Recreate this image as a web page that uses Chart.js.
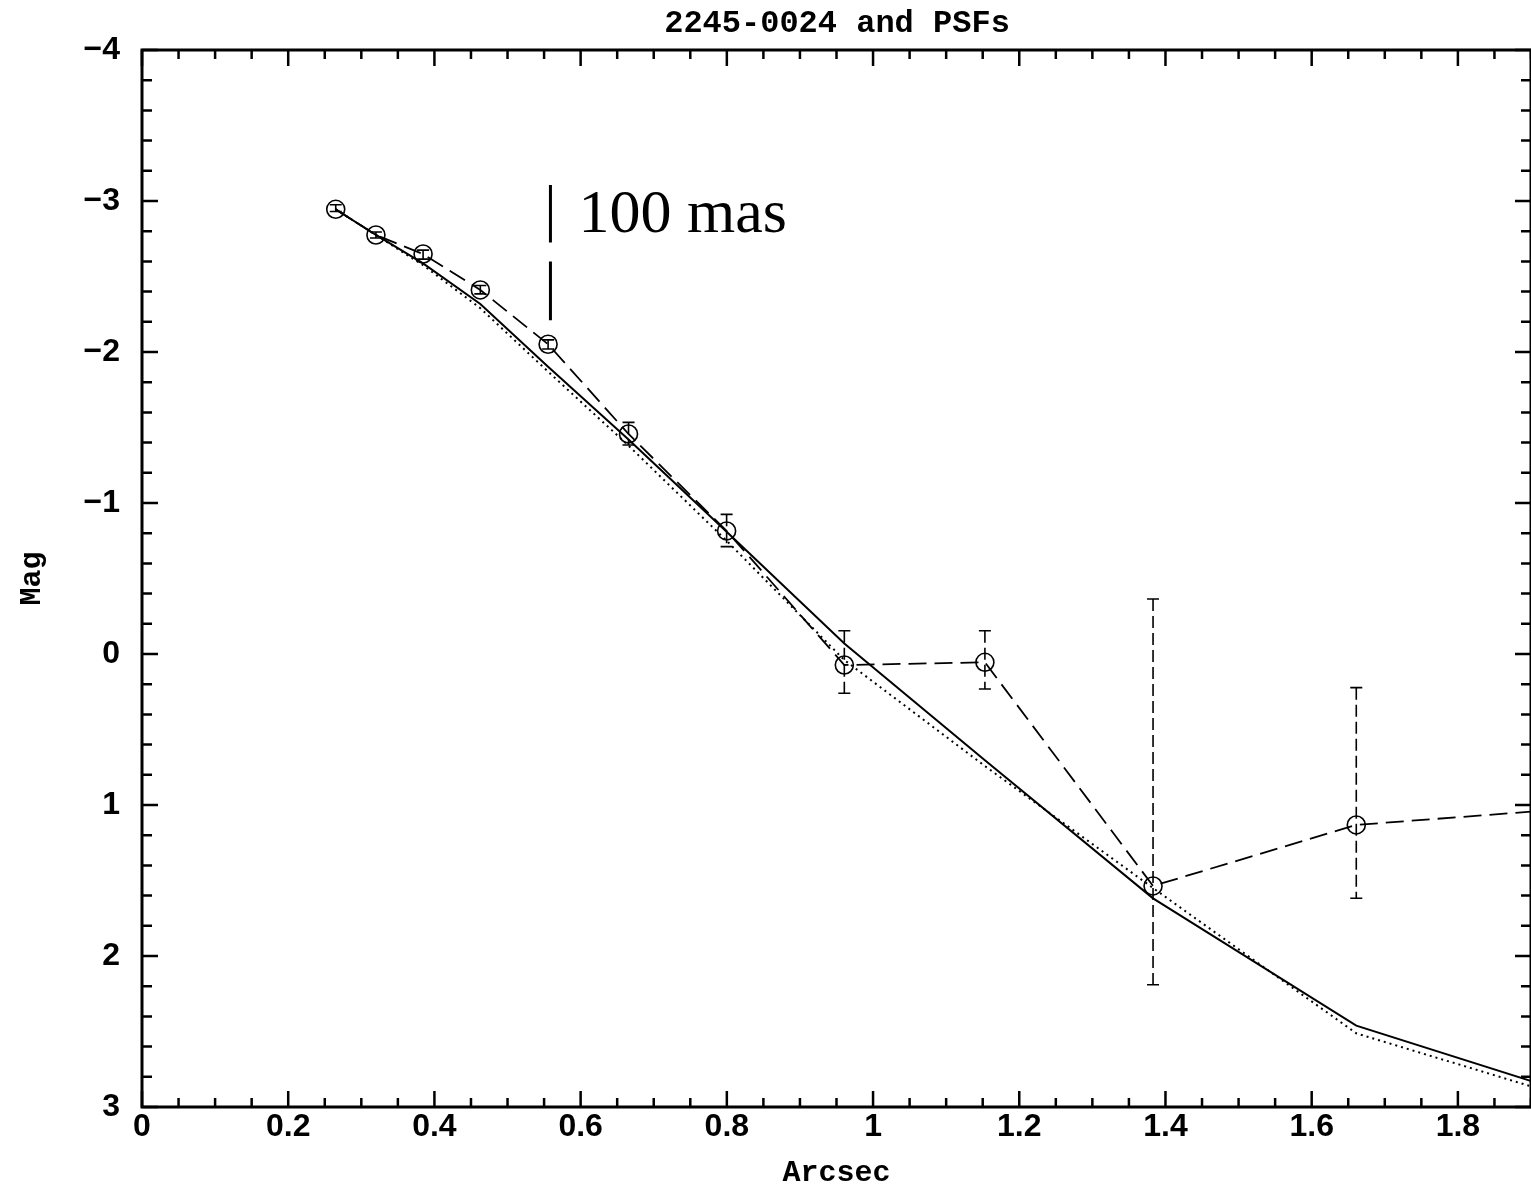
<!DOCTYPE html>
<html>
<head>
<meta charset="utf-8">
<script src="https://cdn.jsdelivr.net/npm/chart.js@4.4.1/dist/chart.umd.min.js"></script>
<style>
  html, body { margin: 0; padding: 0; background: #fff; }
  canvas { display: block; }
</style>
</head>
<body>
<canvas id="profile" width="1531" height="1192"></canvas>
<script>
// annulus radii (arcsec)
var radius = [0.265, 0.320, 0.3845, 0.4628, 0.5555, 0.6655, 0.7997, 0.9607, 1.153, 1.383, 1.661, 1.993];
// 2245-0024 measured profile (mag) and error bar ends
var galaxyMag = [-2.945, -2.775, -2.649, -2.411, -2.051, -1.457, -0.815, 0.073, 0.055, 1.536, 1.132, 1.01];
var errTop    = [-2.975, -2.795, -2.675, -2.440, -2.080, -1.534, -0.925, -0.154, -0.154, -0.364, 0.223, 0.60];
var errBottom = [-2.930, -2.755, -2.615, -2.385, -2.020, -1.384, -0.711, 0.260, 0.232, 2.190, 1.618, 1.50];
// the two PSF profiles
var psfSolid  = [-2.945, -2.775, -2.587, -2.318, -1.903, -1.420, -0.810, -0.070, 0.704, 1.618, 2.461, 2.97];
var psfDotted = [-2.945, -2.775, -2.575, -2.290, -1.870, -1.380, -0.750, 0.040, 0.742, 1.550, 2.512, 3.00];

var xTickLabels = ['0', '0.2', '0.4', '0.6', '0.8', '1', '1.2', '1.4', '1.6', '1.8'];
var yTickLabels = ['\u22124', '\u22123', '\u22122', '\u22121', '0', '1', '2', '3'];

function pts(ys) {
    return radius.map(function (r, i) { return { x: r, y: ys[i] }; });
}

var overlay = {
    id: 'overlay',
    afterDatasetsDraw: function (chart) {
        var ctx = chart.ctx, a = chart.chartArea;
        var xs = chart.scales.x, ys = chart.scales.y;
        ctx.save();
        ctx.beginPath();
        ctx.rect(a.left, a.top, a.right - a.left, a.bottom - a.top);
        ctx.clip();
        ctx.strokeStyle = '#000';
        ctx.lineWidth = 1.6;
        for (var i = 0; i < radius.length; i++) {
            var px = xs.getPixelForValue(radius[i]);
            var y1 = ys.getPixelForValue(errTop[i]);
            var y2 = ys.getPixelForValue(errBottom[i]);
            ctx.setLineDash([12, 5]);
            ctx.beginPath();
            ctx.moveTo(px, y1);
            ctx.lineTo(px, y2);
            ctx.stroke();
            ctx.setLineDash([]);
            ctx.beginPath();
            ctx.moveTo(px - 6, y1); ctx.lineTo(px + 6, y1);
            ctx.moveTo(px - 6, y2); ctx.lineTo(px + 6, y2);
            ctx.stroke();
        }
        // 100 mas marker
        var mx = xs.getPixelForValue(0.5587);
        ctx.lineWidth = 3;
        ctx.beginPath();
        ctx.moveTo(mx, ys.getPixelForValue(-3.106));
        ctx.lineTo(mx, ys.getPixelForValue(-2.725));
        ctx.moveTo(mx, ys.getPixelForValue(-2.60));
        ctx.lineTo(mx, ys.getPixelForValue(-2.21));
        ctx.stroke();
        ctx.fillStyle = '#000';
        ctx.font = '62px "Liberation Serif"';
        ctx.textAlign = 'left';
        ctx.textBaseline = 'alphabetic';
        ctx.fillText('100 mas', mx + 28, ys.getPixelForValue(-2.795));
        ctx.restore();
    },
    afterDraw: function (chart) {
        var ctx = chart.ctx, a = chart.chartArea;
        var xs = chart.scales.x, ys = chart.scales.y;
        ctx.save();
        ctx.strokeStyle = '#000';
        ctx.lineWidth = 2.5;
        xs.ticks.forEach(function (t, i) {
            var px = xs.getPixelForValue(t.value);
            var len = i % 4 === 0 ? 16 : 9;
            ctx.beginPath();
            ctx.moveTo(px, a.bottom); ctx.lineTo(px, a.bottom - len);
            ctx.moveTo(px, a.top); ctx.lineTo(px, a.top + len);
            ctx.stroke();
        });
        ys.ticks.forEach(function (t, i) {
            var py = ys.getPixelForValue(t.value);
            var len = i % 5 === 0 ? 16 : 10;
            ctx.beginPath();
            ctx.moveTo(a.left, py); ctx.lineTo(a.left + len, py);
            ctx.moveTo(a.right, py); ctx.lineTo(a.right - len, py);
            ctx.stroke();
        });
        ctx.lineWidth = 3;
        ctx.strokeRect(a.left, a.top, a.right - a.left, a.bottom - a.top);
        ctx.fillStyle = '#000';
        ctx.font = 'bold 32px "Liberation Mono"';
        ctx.textAlign = 'center';
        ctx.textBaseline = 'alphabetic';
        ctx.fillText('2245-0024 and PSFs', 837, 32);
        ctx.restore();
    }
};

Chart.defaults.font.family = 'Liberation Sans';
Chart.defaults.color = '#000';

var ctx = document.getElementById('profile');
var chart = new Chart(ctx, {
    type: 'scatter',
    plugins: [overlay],
    data: {
        datasets: [
            {
                label: '2245-0024',
                data: pts(galaxyMag),
                showLine: true,
                borderColor: '#000',
                borderWidth: 1.8,
                borderDash: [18, 8],
                pointRadius: 9,
                pointBorderWidth: 1.6,
                pointBorderColor: '#000',
                pointBackgroundColor: 'rgba(0,0,0,0)'
            },
            {
                label: 'PSF 1',
                data: pts(psfSolid),
                showLine: true,
                borderColor: '#000',
                borderWidth: 2,
                pointRadius: 0
            },
            {
                label: 'PSF 2',
                data: pts(psfDotted),
                showLine: true,
                borderColor: '#000',
                borderWidth: 2,
                borderDash: [2, 4],
                pointRadius: 0
            }
        ]
    },
    options: {
        responsive: false,
        animation: false,
        layout: { autoPadding: false, padding: { top: 50, right: -3, bottom: 0, left: 0 } },
        plugins: {
            legend: { display: false },
            tooltip: { enabled: false }
        },
        scales: {
            x: {
                type: 'linear',
                min: 0,
                max: 1.9,
                afterBuildTicks: function (scale) {
                    var t = [];
                    for (var k = 0; k <= 38; k++) t.push({ value: Math.round(k * 5) / 100 });
                    scale.ticks = t;
                },
                afterFit: function (scale) {
                    scale.height = 85;
                    scale.paddingLeft = 0;
                    scale.paddingRight = 0;
                },
                grid: { display: false, drawTicks: false },
                border: { display: false },
                ticks: {
                    autoSkip: false,
                    maxRotation: 0,
                    padding: 4,
                    font: { size: 32, weight: 'bold', lineHeight: 1 },
                    callback: function (value, index) {
                        return index % 4 === 0 ? xTickLabels[index / 4] : '';
                    }
                },
                title: {
                    display: true,
                    text: 'Arcsec',
                    font: { family: 'Liberation Mono', size: 30, weight: 'bold' },
                    padding: { top: 0, bottom: 1 }
                }
            },
            y: {
                type: 'linear',
                min: -4,
                max: 3,
                reverse: true,
                afterBuildTicks: function (scale) {
                    var t = [];
                    for (var k = 0; k <= 35; k++) t.push({ value: Math.round((-4 + k * 0.2) * 10) / 10 });
                    scale.ticks = t;
                },
                afterFit: function (scale) {
                    scale.width = 142;
                    scale.paddingTop = 0;
                    scale.paddingBottom = 0;
                },
                grid: { display: false, drawTicks: false },
                border: { display: false },
                ticks: {
                    autoSkip: false,
                    padding: 22,
                    font: { size: 32, weight: 'bold', lineHeight: 1 },
                    callback: function (value, index) {
                        return index % 5 === 0 ? yTickLabels[index / 5] : '';
                    }
                },
                title: {
                    display: true,
                    text: 'Mag',
                    font: { family: 'Liberation Mono', size: 30, weight: 'bold' },
                    padding: { top: 14, bottom: 0 }
                }
            }
        }
    }
});
</script>
</body>
</html>
